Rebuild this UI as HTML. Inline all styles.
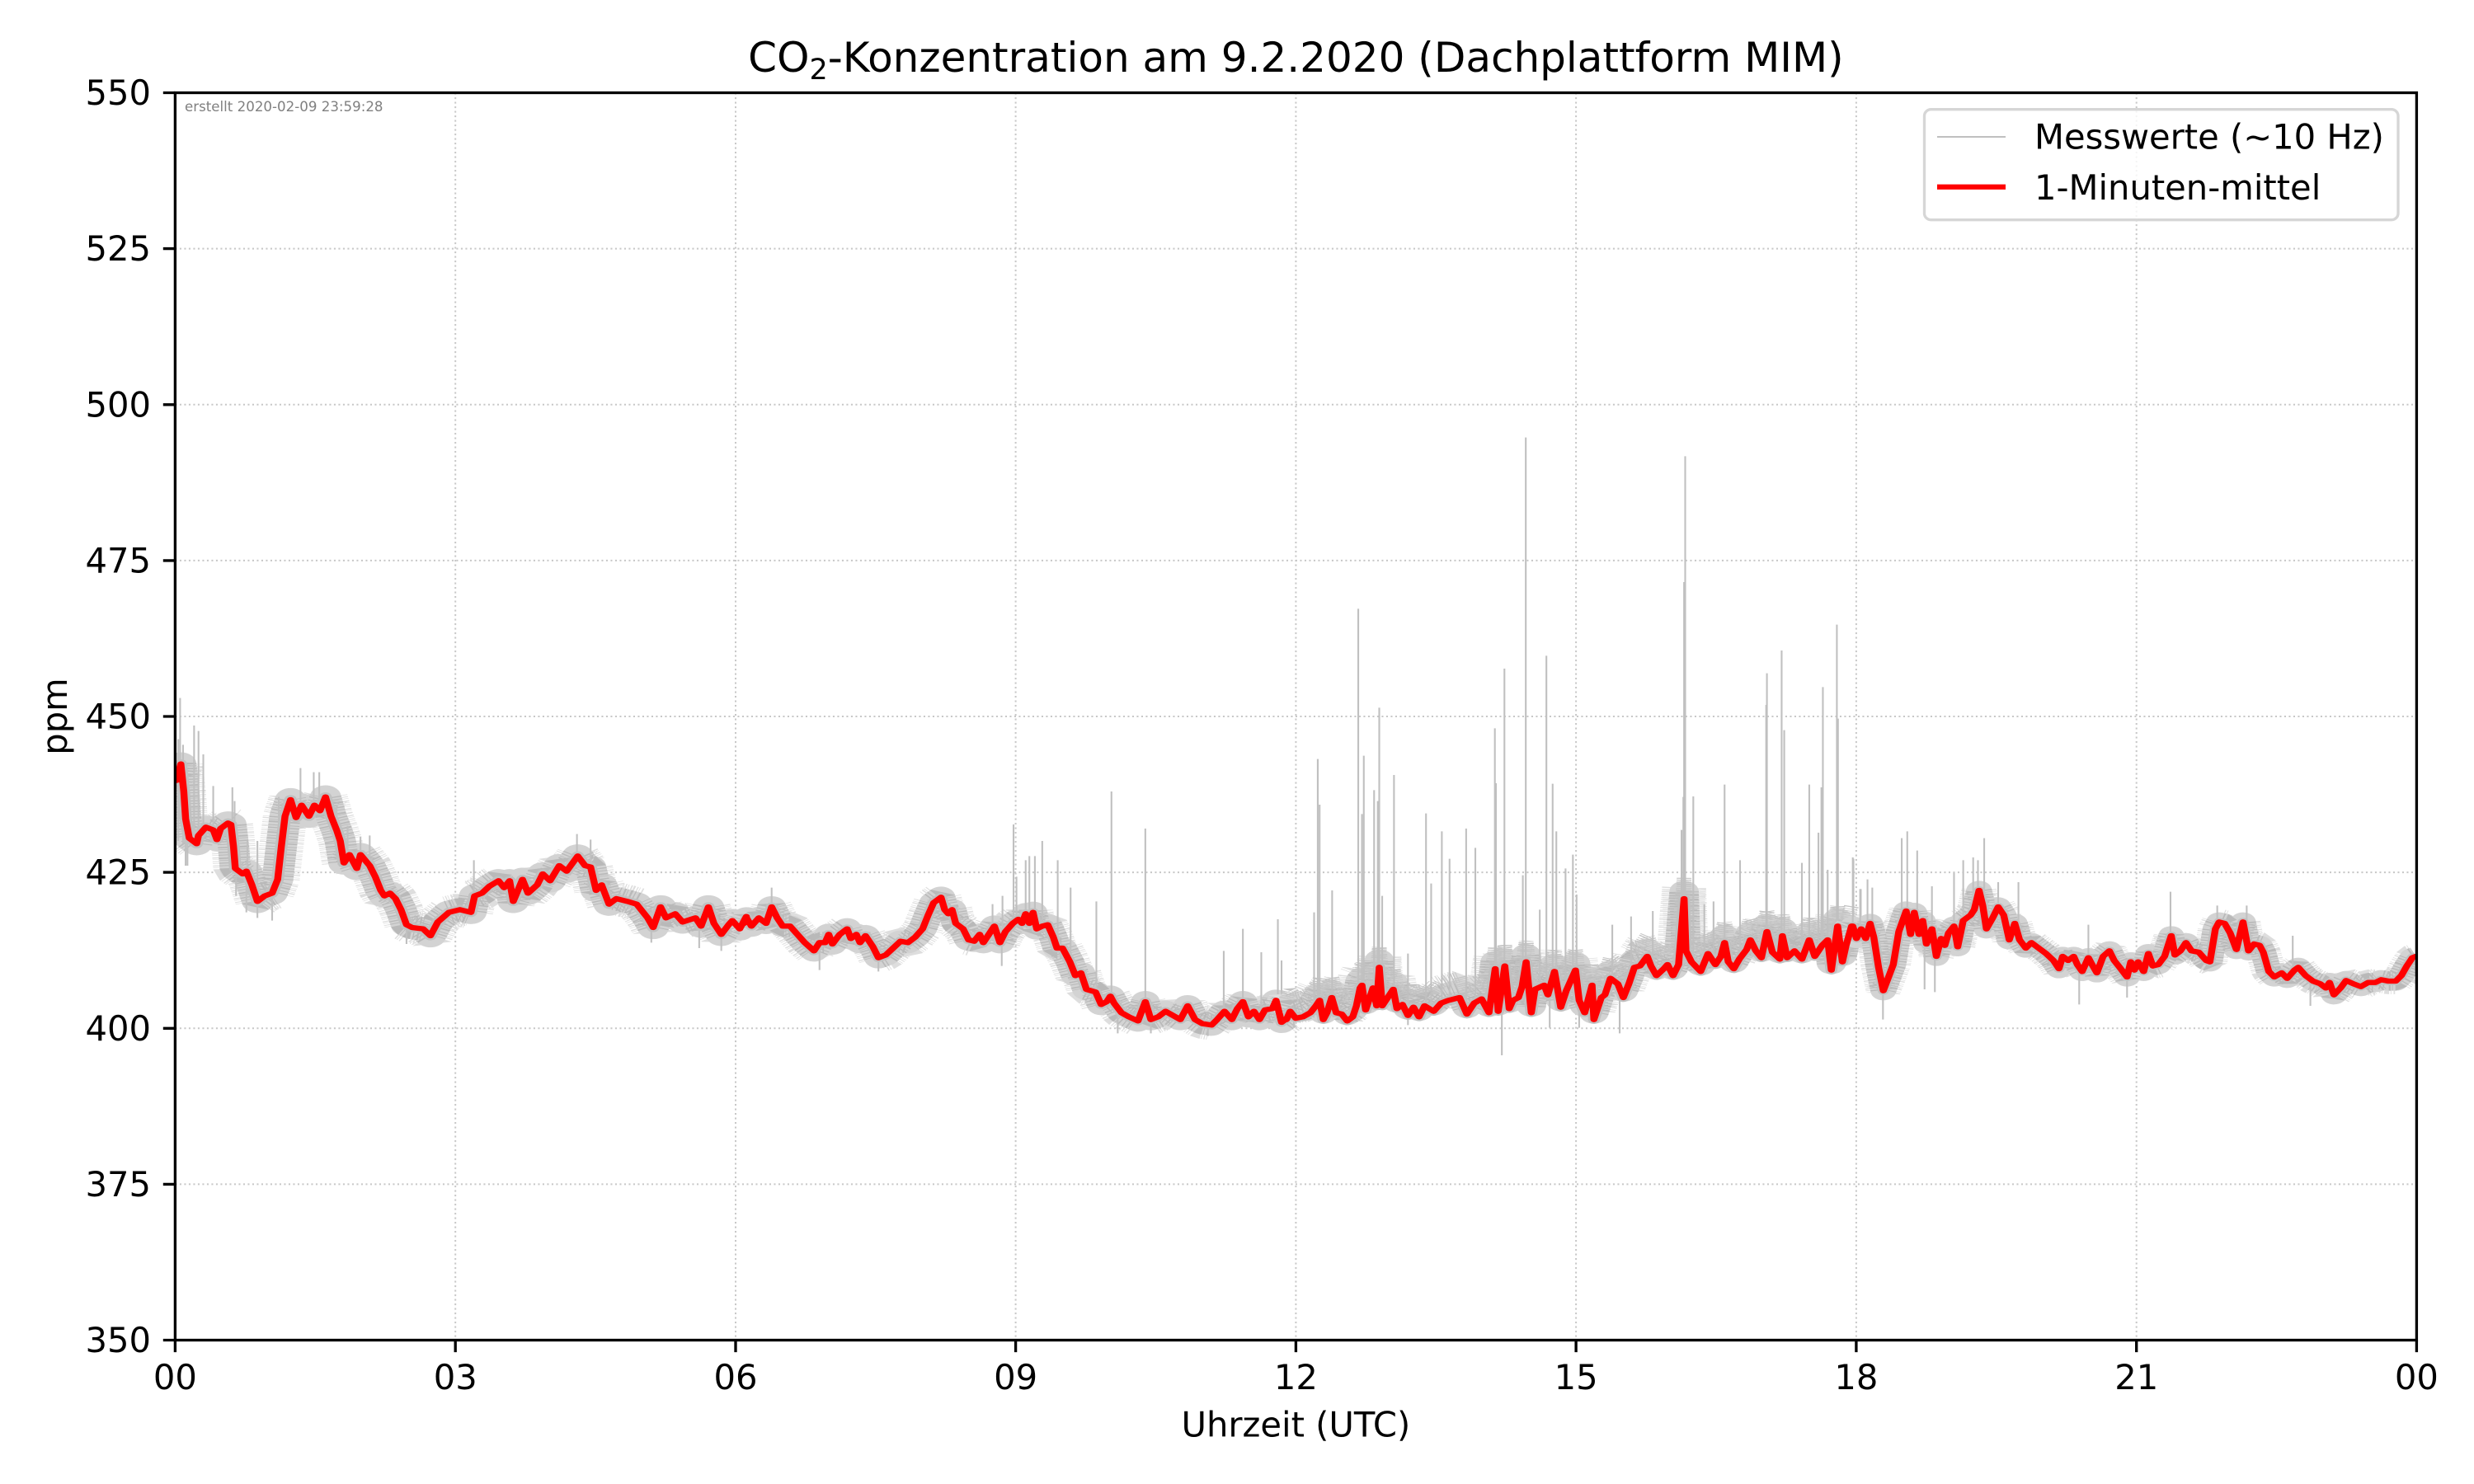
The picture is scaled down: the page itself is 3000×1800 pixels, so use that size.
<!DOCTYPE html>
<html><head><meta charset="utf-8"><title>CO2</title>
<style>html,body{margin:0;padding:0;background:#fff}svg{display:block}</style>
</head><body>
<svg width="3000" height="1800" viewBox="0 0 3000 1800" xmlns="http://www.w3.org/2000/svg" font-family="'DejaVu Sans','Liberation Sans',sans-serif">
<defs>
<clipPath id="pc"><rect x="212.4" y="112.5" width="2718" height="1513"/></clipPath>
<polyline id="r4" points="20,380 32,320 40,420 45,520 55,590 65,600 75,610 80,580 100,550 120,560 130,595 140,555 160,535 168,540 175,620 180,700 200,720 210,710 225,760 240,820 260,800 280,790 295,740 305,620 315,510 330,450 345,515 360,470 380,510 395,470 410,490 425,440 440,510 455,560 465,600 475,680 490,650 510,700 520,650 545,690 560,730 575,780 585,800 600,790 615,810 630,850 645,905 660,915 690,920 710,945 730,895 760,860 790,850 820,860 830,800 850,790 870,765 895,745 910,770 925,745 935,820 960,740 975,790 1000,760 1015,720 1035,745 1060,690 1080,710 1110,655 1130,690 1145,695 1160,780 1175,760 1195,830 1215,810 1245,820 1270,830 1300,880 1315,915 1335,840 1350,880 1375,865 1395,895 1430,880 1445,910 1465,840 1480,900 1500,940 1520,905 1530,890 1550,920 1568,875"/>
<polyline id="r5" points="5,420 12,400 25,430 45,400 65,420 80,360 95,400 110,430 130,430 150,460 170,490 195,520 210,490 225,490 235,460 245,495 265,460 285,440 295,475 310,460 320,490 335,465 355,505 370,545 390,535 410,510 430,485 450,490 470,470 490,440 505,390 520,345 540,325 550,370 560,385 570,370 580,420 600,440 615,480 630,485 645,460 655,490 670,460 685,430 700,490 715,450 735,420 750,405 760,420 770,385 780,420 790,380 800,440 815,430 830,425 845,470 855,510 870,510 890,560 905,610 920,600 935,660 960,670 975,715 990,705 1000,685 1010,710 1030,745 1050,760 1075,775 1095,705 1110,770 1130,760 1150,740 1170,755 1190,770 1210,720 1230,770 1250,785 1275,790 1290,770 1310,740 1330,770 1345,730 1360,705 1375,760 1390,740 1405,770 1420,735 1440,730 1450,700 1465,780 1480,765"/>
<polyline id="r6" points="0,770 10,740 25,765 45,760 65,745 80,720 90,700 100,770 110,745 123,690 135,745 150,750 165,775 180,760 190,720 200,655 205,645 215,735 235,655 245,720 252,580 260,720 275,690 290,660 300,730 315,715 330,755 345,725 360,760 375,720 400,740 420,710 440,700 470,690 490,750 510,710 530,695 550,745 567,585 575,740 593,575 605,730 615,700 630,690 640,650 651,560 665,745 675,660 700,645 710,680 728,595 745,725 760,665 785,590 795,700 810,745 830,645 835,770 855,690 865,680 880,620 900,640 915,690 930,640 945,580 960,575 980,540 990,575 1005,610 1025,585 1035,570 1050,610 1065,570 1080,330 1085,520 1100,560 1125,595 1145,530 1165,570 1180,540 1190,490 1200,560 1215,585 1230,550 1250,515 1260,480 1275,520 1290,545 1305,450 1320,525 1340,550 1347,465 1360,545 1380,520 1400,550 1420,480 1435,540 1455,500 1470,480 1480,590 1497,430 1510,560 1520,500 1535,430"/>
<polyline id="r7" points="10,440 15,430 25,475 38,440 50,475 62,420 72,470 85,580 98,665 108,630 125,570 140,450 160,375 172,460 182,380 195,460 205,410 215,495 230,440 242,540 255,475 265,500 275,455 290,430 300,505 315,410 335,390 345,370 358,300 368,355 378,440 395,400 410,360 425,390 440,480 455,420 468,480 485,510 500,490 520,510 540,530 560,555 575,585 585,540 600,555 615,540 625,570 638,595 655,545 665,570 678,600 695,540 712,520 725,555 740,580 760,615 770,560 780,590 790,560 805,595 818,530 830,575 845,570 862,540 880,465 890,535 905,520 920,490 935,520 955,525 975,555 985,560 1000,440 1010,415 1025,420 1040,455 1057,515 1075,415 1090,520 1105,495 1120,500 1130,525 1145,595 1160,615 1180,600 1195,620 1215,590 1225,580 1245,610 1265,630 1285,640 1300,655 1310,635 1322,680 1340,655 1355,628 1375,640 1395,650 1415,635 1435,635 1450,625 1470,630 1490,630 1505,610 1520,575 1535,545 1545,540"/>
</defs>
<rect width="3000" height="1800" fill="#fff"/>

<!-- grid -->
<g stroke="#c8c8c8" stroke-width="2" stroke-dasharray="2.1 3.4" fill="none">
<path d="M552.2 112.5V1625.5M892 112.5V1625.5M1231.6 112.5V1625.5M1571.4 112.5V1625.5M1911.1 112.5V1625.5M2250.9 112.5V1625.5M2590.7 112.5V1625.5"/>
<path d="M212.4 301.6H2930.4M212.4 490.8H2930.4M212.4 679.9H2930.4M212.4 869H2930.4M212.4 1058.1H2930.4M212.4 1247.3H2930.4M212.4 1436.4H2930.4"/>
</g>

<g clip-path="url(#pc)" fill="none">
<!-- ===== gray measurements ===== -->
<g transform="translate(205 820) scale(0.44643 0.33333)">
<use href="#r4" stroke="#dedede" stroke-width="120" stroke-linejoin="bevel" stroke-dasharray="3 4 2 6 4 3 2 5"/>
<use href="#r4" stroke="#d3d3d3" stroke-width="85" stroke-linejoin="round"/>
<use href="#r4" stroke="#b9b9b9" stroke-width="85" stroke-linejoin="bevel" stroke-dasharray="4 6 3 8 5 4 2 7"/>
<use href="#r4" stroke="#c0c0c0" stroke-width="34" stroke-linejoin="round"/>
<path stroke="#c0c0c0" stroke-width="4.7" d="M30 80V400M25 230V600M38 250V610M45 380V690M68 180V590M80 200V580M93 285V560M120 400V560M172 405V540M178 455V620M213 600V710M240 600V810M298 440V740M357 335V470M393 350V470M408 350V480M455 470V560M485 545V660M520 585V650M545 580V690M828 670V800M1108 575V655M1145 595V695M50 590V690M182 700V800M210 710V860M240 800V880M280 790V890M645 900V975M1310 900V970M1500 930V1000M1440 900V990"/>
</g>
<g transform="translate(900 980) scale(0.44643 0.33333)">
<use href="#r5" stroke="#dedede" stroke-width="110" stroke-linejoin="bevel" stroke-dasharray="3 4 2 6 4 3 2 5"/>
<use href="#r5" stroke="#d3d3d3" stroke-width="78" stroke-linejoin="round"/>
<use href="#r5" stroke="#b9b9b9" stroke-width="78" stroke-linejoin="bevel" stroke-dasharray="4 6 3 8 5 4 2 7"/>
<use href="#r5" stroke="#c0c0c0" stroke-width="32" stroke-linejoin="round"/>
<path stroke="#c0c0c0" stroke-width="4.7" d="M737 60V420M745 250V420M770 190V420M780 175V420M795 175V420M815 120V430M857 190V470M892 290V560M962 340V660M1003 -60V700M1095 75V705M1308 520V740M1360 440V705M1410 525V770M1455 405V700M1465 555V780M707 320V490M680 350V470M705 490V575M1020 745V820M1110 770V820M1265 790V830M210 490V590M370 545V595M80 290V400"/>
</g>
<g transform="translate(1560 980) scale(0.44643 0.33333)">
<use href="#r6" stroke="#dedede" stroke-width="120" stroke-linejoin="bevel" stroke-dasharray="3 4 2 6 4 3 2 5" transform="translate(0,-40)"/>
<use href="#r6" stroke="#d3d3d3" stroke-width="80" stroke-linejoin="round" transform="translate(0,-25)"/>
<use href="#r6" stroke="#b9b9b9" stroke-width="80" stroke-linejoin="bevel" stroke-dasharray="4 6 3 8 5 4 2 7" transform="translate(0,-25)"/>
<use href="#r6" stroke="#c4c4c4" stroke-width="40" stroke-linejoin="bevel" stroke-dasharray="3 5 2 6 4 3" transform="translate(0,-75)"/>
<use href="#r6" stroke="#c0c0c0" stroke-width="32" stroke-linejoin="round"/>
<path stroke="#c0c0c0" stroke-width="4.7" d="M75 380V720M85 -178V700M90 -12V700M124 300V690M195 -725V700M205 22V650M210 -190V700M238 -65V660M248 -25V650M252 -365V600M260 320V700M292 -120V660M330 530V740M379 20V720M393 275V730M422 85V710M443 185V700M488 75V720M513 145V700M566 -290V600M569 -90V600M592 -507V600M642 245V660M650 -1348V600M688 370V650M706 -554V650M723 -88V650M733 85V660M758 220V660M778 170V640M788 315V620M885 425V640M936 395V620M995 375V590M1073 80V580M1078 -40V560M1080 -822V400M1083 -1280V400M1105 -42V560M1135 350V560M1160 340V560M1190 -85V520M1232 190V540M1303 -375V480M1305 -490V460M1345 -573V520M1352 -283V520M1400 200V530M1420 -85V490M1445 90V510M1453 -75V500M1457 -440V500M1470 225V490M1495 -667V470M1498 -325V470M1540 185V450M1560 295V460M585 700V900M715 680V800M795 700V800M905 640V820M20 760V800M330 740V790"/>
</g>
<g transform="translate(2240 980) scale(0.44643 0.33333)">
<use href="#r7" stroke="#dedede" stroke-width="95" stroke-linejoin="bevel" stroke-dasharray="3 4 2 6 4 3 2 5"/>
<use href="#r7" stroke="#d3d3d3" stroke-width="70" stroke-linejoin="round"/>
<use href="#r7" stroke="#b9b9b9" stroke-width="70" stroke-linejoin="bevel" stroke-dasharray="4 6 3 8 5 4 2 7"/>
<use href="#r7" stroke="#c0c0c0" stroke-width="30" stroke-linejoin="round"/>
<path stroke="#c0c0c0" stroke-width="4.7" d="M15 180V440M35 295V450M55 260V450M68 290V430M148 110V430M163 85V380M190 155V420M230 285V440M290 235V430M315 190V420M342 180V370M355 190V300M372 110V350M410 270V360M465 270V420M655 425V545M878 305V465M1005 355V430M1085 355V430M1210 465V590M97 660V770M630 580V715M1258 630V720M760 610V690M210 480V660M238 500V670"/>
</g>

<!-- ===== red 1-minute mean ===== -->
<g stroke="#ff0000" stroke-width="19" stroke-linejoin="round" stroke-linecap="round">
<g transform="translate(205 820) scale(0.44643 0.33333)"><use href="#r4"/></g>
<g transform="translate(900 980) scale(0.44643 0.33333)"><use href="#r5"/></g>
<g transform="translate(1560 980) scale(0.44643 0.33333)"><use href="#r6"/></g>
<g transform="translate(2240 980) scale(0.44643 0.33333)"><use href="#r7"/></g>
</g>
</g>

<!-- spines -->
<rect x="212.4" y="112.5" width="2718" height="1513" fill="none" stroke="#000" stroke-width="3.33"/>

<!-- ticks -->
<g stroke="#000" stroke-width="3.33">
<path d="M197.8 112.5H212.4M197.8 301.6H212.4M197.8 490.8H212.4M197.8 679.9H212.4M197.8 869H212.4M197.8 1058.1H212.4M197.8 1247.3H212.4M197.8 1436.4H212.4M197.8 1625.5H212.4"/>
<path d="M212.4 1625.5V1640.1M552.2 1625.5V1640.1M892 1625.5V1640.1M1231.6 1625.5V1640.1M1571.4 1625.5V1640.1M1911.1 1625.5V1640.1M2250.9 1625.5V1640.1M2590.7 1625.5V1640.1M2930.4 1625.5V1640.1"/>
</g>

<!-- tick labels -->
<g font-size="41.67" fill="#000" text-anchor="end">
<text x="183" y="127">550</text>
<text x="183" y="316.1">525</text>
<text x="183" y="505.3">500</text>
<text x="183" y="694.4">475</text>
<text x="183" y="883.5">450</text>
<text x="183" y="1072.6">425</text>
<text x="183" y="1261.8">400</text>
<text x="183" y="1450.9">375</text>
<text x="183" y="1640">350</text>
</g>
<g font-size="41.67" fill="#000" text-anchor="middle">
<text x="212.4" y="1685">00</text>
<text x="552.2" y="1685">03</text>
<text x="892" y="1685">06</text>
<text x="1231.6" y="1685">09</text>
<text x="1571.4" y="1685">12</text>
<text x="1911.1" y="1685">15</text>
<text x="2250.9" y="1685">18</text>
<text x="2590.7" y="1685">21</text>
<text x="2930.4" y="1685">00</text>
</g>

<!-- axis labels -->
<text x="1571.4" y="1742.7" font-size="41.67" text-anchor="middle" fill="#000">Uhrzeit (UTC)</text>
<text transform="translate(81 869) rotate(-90)" font-size="41.67" text-anchor="middle" fill="#000">ppm</text>

<!-- title -->
<text x="1571.4" y="87" font-size="50" text-anchor="middle" fill="#000">CO<tspan font-size="35" dy="9">2</tspan><tspan dy="-9">-Konzentration am 9.2.2020 (Dachplattform MIM)</tspan></text>

<!-- timestamp -->
<text x="224" y="135" font-size="16.67" fill="#808080">erstellt 2020-02-09 23:59:28</text>

<!-- legend -->
<rect x="2333.5" y="132.7" width="574.5" height="134" rx="8" ry="8" fill="#fff" fill-opacity="0.8" stroke="#d6d6d6" stroke-width="3.33"/>
<line x1="2349" y1="166" x2="2432" y2="166" stroke="#c0c0c0" stroke-width="2.08"/>
<line x1="2349" y1="226.7" x2="2432" y2="226.7" stroke="#ff0000" stroke-width="6.25"/>
<text x="2467" y="180.7" font-size="41.67" fill="#000">Messwerte (~10 Hz)</text>
<text x="2467" y="242" font-size="41.67" fill="#000">1-Minuten-mittel</text>
</svg>
</body></html>
